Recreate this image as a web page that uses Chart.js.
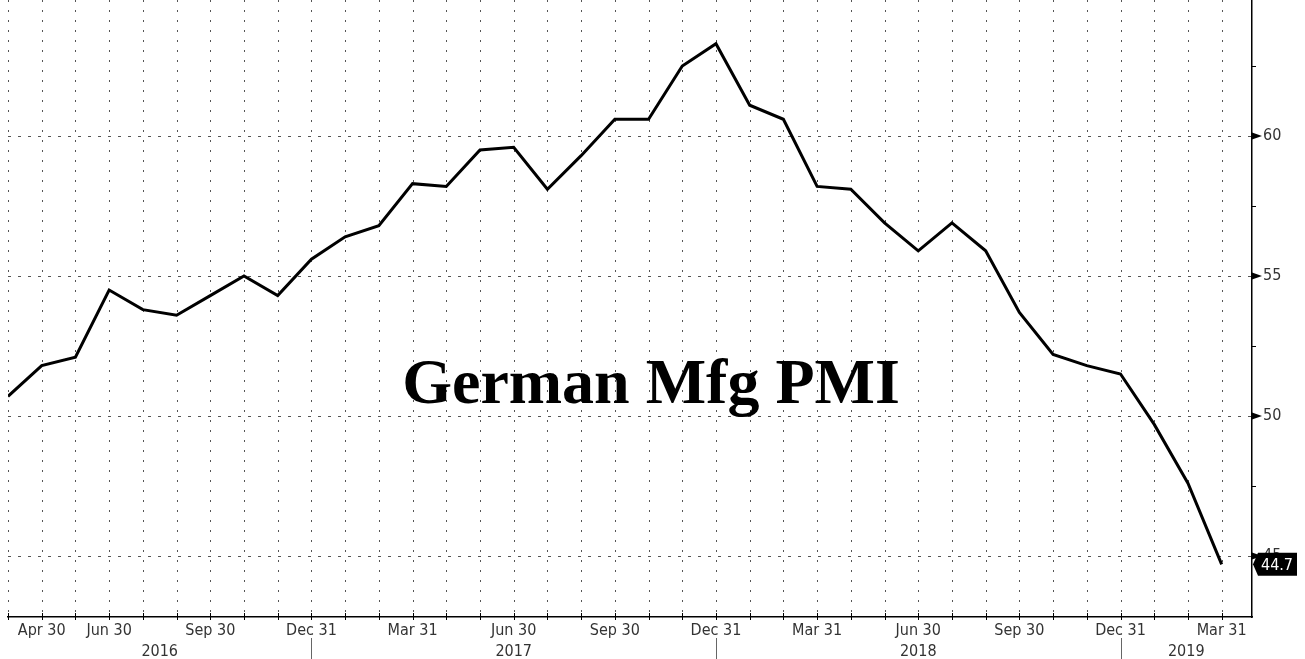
<!DOCTYPE html>
<html>
<head>
<meta charset="utf-8">
<script src="https://cdn.jsdelivr.net/npm/chart.js@4.4.1/dist/chart.umd.min.js"></script>
<style>
  html, body { margin: 0; padding: 0; background: #fff; }
  #wrap { position: relative; width: 1305px; height: 659px; }
</style>
</head>
<body>
<div id="wrap"><canvas id="pmiChart" width="1305" height="659"></canvas></div>
<script>
// German manufacturing PMI, monthly, Mar 2016 .. Mar 2019
const months = ['2016-03','2016-04','2016-05','2016-06','2016-07','2016-08','2016-09','2016-10','2016-11','2016-12',
  '2017-01','2017-02','2017-03','2017-04','2017-05','2017-06','2017-07','2017-08','2017-09','2017-10','2017-11','2017-12',
  '2018-01','2018-02','2018-03','2018-04','2018-05','2018-06','2018-07','2018-08','2018-09','2018-10','2018-11','2018-12',
  '2019-01','2019-02','2019-03'];
const pmi = [50.7, 51.8, 52.1, 54.5, 53.8, 53.6, 54.3, 55.0, 54.3, 55.6,
  56.4, 56.8, 58.3, 58.2, 59.5, 59.6, 58.1, 59.3, 60.6, 60.6, 62.5, 63.3,
  61.1, 60.6, 58.2, 58.1, 56.9, 55.9, 56.9, 55.9, 53.7, 52.2, 51.8, 51.5,
  49.7, 47.6, 44.7];

const tickIndex = [1, 3, 6, 9, 12, 15, 18, 21, 24, 27, 30, 33, 36];
const tickText = ['Apr 30', 'Jun 30', 'Sep 30', 'Dec 31', 'Mar 31', 'Jun 30', 'Sep 30', 'Dec 31',
  'Mar 31', 'Jun 30', 'Sep 30', 'Dec 31', 'Mar 31'];
const years = ['2016', '2017', '2018', '2019'];
const yearBreaks = [9, 21, 33];   // Dec 31 of each year
const yTicks = [45, 50, 55, 60];
const yMinor = [47.5, 52.5, 57.5, 62.5];
const titleText = 'German Mfg PMI';

const labelFont = '"DejaVu Sans Condensed", "DejaVu Sans", sans-serif';

const decor = {
  id: 'decor',
  beforeDatasetsDraw(chart) {
    const { ctx, chartArea: a, scales: { x, y } } = chart;
    ctx.save();
    ctx.strokeStyle = '#555';
    ctx.lineWidth = 1;
    ctx.setLineDash([2, 8]);
    months.forEach((m, i) => {
      const px = Math.round(x.getPixelForValue(i)) + 0.5;
      ctx.beginPath(); ctx.moveTo(px, a.top); ctx.lineTo(px, a.bottom); ctx.stroke();
    });
    ctx.setLineDash([3, 7]);
    yTicks.forEach(v => {
      const py = Math.round(y.getPixelForValue(v)) + 0.5;
      ctx.beginPath(); ctx.moveTo(a.left, py); ctx.lineTo(a.right, py); ctx.stroke();
    });
    ctx.setLineDash([]);
    ctx.fillStyle = '#000';
    ctx.font = 'bold 64px "Liberation Serif", "Times New Roman", serif';
    ctx.textAlign = 'center';
    ctx.textBaseline = 'alphabetic';
    ctx.fillText(titleText, 651, 403);
    ctx.restore();
  },
  afterDraw(chart) {
    const { ctx, chartArea: a, scales: { x, y } } = chart;
    ctx.save();
    // month ticks crossing the axis
    ctx.strokeStyle = '#000';
    ctx.lineWidth = 1;
    months.forEach((m, i) => {
      const px = Math.round(x.getPixelForValue(i)) + 0.5;
      ctx.beginPath(); ctx.moveTo(px, a.bottom - 4); ctx.lineTo(px, a.bottom + 3); ctx.stroke();
    });
    // year separators and labels
    ctx.strokeStyle = '#666';
    yearBreaks.forEach(i => {
      const px = Math.round(x.getPixelForValue(i)) + 0.5;
      ctx.beginPath(); ctx.moveTo(px, a.bottom + 21); ctx.lineTo(px, 659); ctx.stroke();
    });
    const edges = [x.getPixelForValue(0)].concat(yearBreaks.map(i => x.getPixelForValue(i)), [a.right]);
    ctx.fillStyle = '#333';
    ctx.font = '16px ' + labelFont;
    ctx.textAlign = 'center';
    ctx.textBaseline = 'alphabetic';
    years.forEach((yr, k) => {
      ctx.fillText(yr, (edges[k] + edges[k + 1]) / 2, 656);
    });
    // right axis markers
    ctx.fillStyle = '#000';
    yTicks.forEach(v => {
      const py = y.getPixelForValue(v);
      ctx.beginPath();
      ctx.moveTo(a.right, py - 3.5); ctx.lineTo(a.right + 10, py); ctx.lineTo(a.right, py + 3.5);
      ctx.closePath(); ctx.fill();
    });
    ctx.strokeStyle = '#000';
    yMinor.forEach(v => {
      const py = Math.round(y.getPixelForValue(v)) + 0.5;
      ctx.beginPath(); ctx.moveTo(a.right, py); ctx.lineTo(a.right + 4, py); ctx.stroke();
    });
    // last value flag
    const last = pmi[pmi.length - 1];
    const ly = y.getPixelForValue(last);
    ctx.fillStyle = '#000';
    ctx.beginPath();
    ctx.moveTo(a.right + 1, ly);
    ctx.lineTo(a.right + 6, ly - 11.5);
    ctx.lineTo(a.right + 45, ly - 11.5);
    ctx.lineTo(a.right + 45, ly + 11.5);
    ctx.lineTo(a.right + 6, ly + 11.5);
    ctx.closePath();
    ctx.fill();
    ctx.fillStyle = '#fff';
    ctx.font = '16px ' + labelFont;
    ctx.textAlign = 'center';
    ctx.textBaseline = 'middle';
    ctx.fillText(last.toFixed(1), a.right + 25, ly + 1);
    ctx.restore();
  }
};

const ctx = document.getElementById('pmiChart').getContext('2d');
const chart = new Chart(ctx, {
  type: 'line',
  data: {
    datasets: [{
      label: 'German Mfg PMI',
      data: pmi.map((v, i) => ({ x: i, y: v })),
      borderColor: '#000',
      borderWidth: 3,
      pointRadius: 0,
      tension: 0,
      fill: false
    }]
  },
  options: {
    responsive: false,
    animation: false,
    layout: { padding: { left: 8, right: 0, top: 0, bottom: 0 } },
    plugins: { legend: { display: false }, tooltip: { enabled: false } },
    scales: {
      x: {
        type: 'linear',
        min: 0,
        max: 36.9,
        afterFit(s) { s.height = 42; s.paddingLeft = 0; s.paddingRight = 0; },
        afterBuildTicks(s) { s.ticks = months.map((m, i) => ({ value: i })); },
        grid: { display: false, drawTicks: false },
        border: { display: true, color: '#000', width: 1.5 },
        ticks: {
          autoSkip: false,
          maxRotation: 0,
          minRotation: 0,
          padding: 4,
          color: '#333',
          font: { family: labelFont, size: 16 },
          callback: (v) => {
            const k = tickIndex.indexOf(v);
            return k >= 0 ? tickText[k] : '';
          }
        }
      },
      y: {
        position: 'right',
        min: 42.82,
        max: 64.86,
        afterFit(s) { s.width = 53; s.paddingTop = 0; s.paddingBottom = 0; },
        afterBuildTicks(s) { s.ticks = yTicks.map(v => ({ value: v })); },
        grid: { display: false, drawTicks: false },
        border: { display: true, color: '#000', width: 1.5 },
        ticks: {
          padding: 11,
          color: '#333',
          font: { family: labelFont, size: 16 },
          callback: (v) => String(v)
        }
      }
    }
  },
  plugins: [decor]
});
</script>
</body>
</html>
